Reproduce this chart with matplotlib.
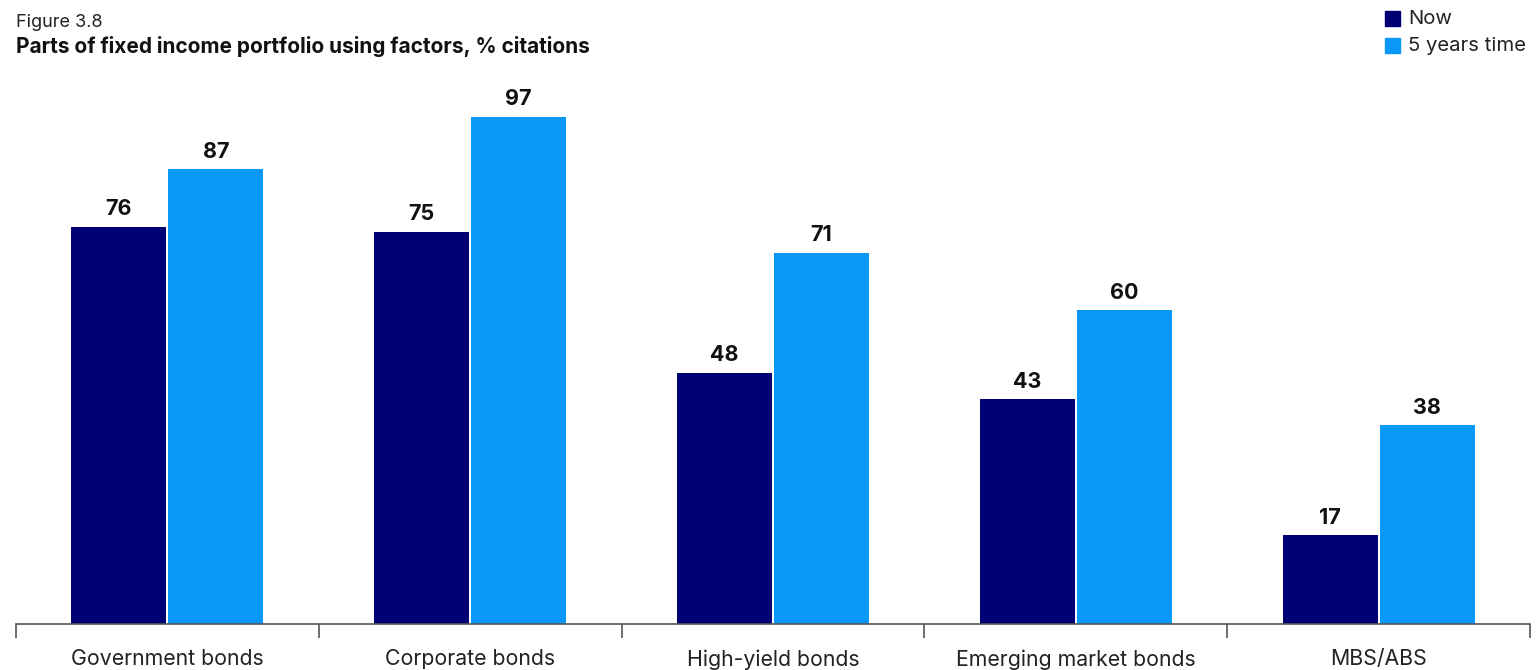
import numpy as np
from matplotlib import pyplot as plt

# data
categories = ["Government bonds", "Corporate bonds", "High-yield bonds",
              "Emerging market bonds", "MBS/ABS"]
now = [76, 75, 48, 43, 17]
five_years = [87, 97, 71, 60, 38]

NAVY = "#000075"
BLUE = "#0898F8"

plt.rcParams['font.family'] = ['Inter', 'DejaVu Sans']

W, H = 1536, 670
fig = plt.figure(figsize=(W / 100, H / 100), dpi=100)

# axes placed in pixel terms: x 16..1530, baseline at y=624
ymax = 100
px_per_unit = 507 / 97
ax_h = ymax * px_per_unit
ax = fig.add_axes([16 / W, (H - 624) / H, 1514 / W, ax_h / H])

x = np.arange(len(categories))
bw = 0.314
off = 0.16
b1 = ax.bar(x - off, now, bw, color=NAVY, zorder=2)
b2 = ax.bar(x + off, five_years, bw, color=BLUE, zorder=2)

for bars, vals in ((b1, now), (b2, five_years)):
    for b, v in zip(bars, vals):
        ax.annotate(str(v), (b.get_x() + b.get_width() / 2, v),
                    xytext=(0, 5.5), textcoords="offset points",
                    ha="center", va="bottom", fontsize=15.5,
                    fontweight="bold", color="#111111")

ax.set_xlim(-0.5, len(categories) - 0.5)
ax.set_ylim(0, ymax)
ax.set_yticks([])
for s in ("top", "right", "left"):
    ax.spines[s].set_visible(False)
ax.spines["bottom"].set_color("#555555")
ax.spines["bottom"].set_linewidth(1.2)

# separators between categories
ax.set_xticks(np.arange(len(categories) + 1) - 0.5)
ax.set_xticklabels([])
ax.tick_params(axis="x", length=10, width=1.2, color="#555555", direction="out")
for i, c in enumerate(categories):
    fig.text((16 + (i + 0.5) * 1514 / 5) / W, 1 - 649 / H, c,
             ha="center", va="top", fontsize=15.3, color="#222222")

# titles
fig.text(16 / W, 1 - 27 / H, "Figure 3.8", ha="left", va="baseline",
         fontsize=13, color="#222222")
fig.text(16 / W, 1 - 53 / H, "Parts of fixed income portfolio using factors, % citations",
         ha="left", va="baseline", fontsize=15, fontweight="bold", color="#111111")

# legend
for j, (lab, col) in enumerate((("Now", NAVY), ("5 years time", BLUE))):
    yc = 19 + j * 27
    fig.patches.append(plt.Rectangle((1385 / W, 1 - (yc + 7) / H), 15 / W, 15 / H,
                                     transform=fig.transFigure, color=col))
    fig.text(1408 / W, 1 - yc / H, lab, ha="left", va="center",
             fontsize=14.6, color="#222222")

fig.savefig("out.png", dpi=100)
